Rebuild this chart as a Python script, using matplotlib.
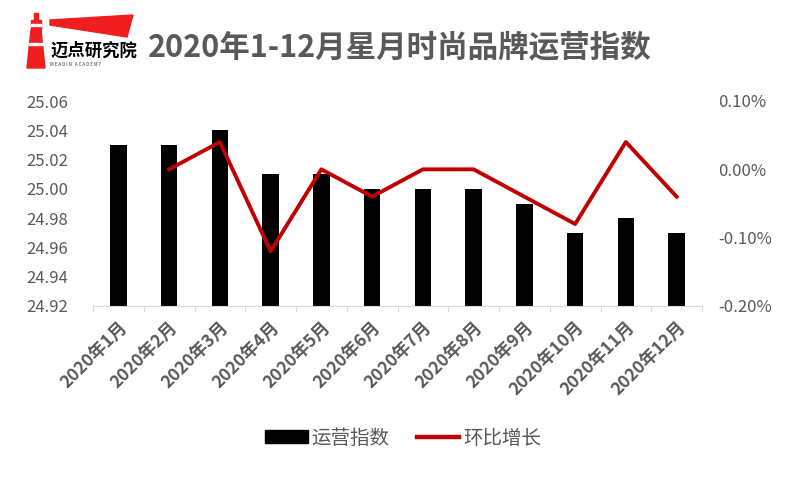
import matplotlib
matplotlib.use("Agg")
import matplotlib.pyplot as plt
from matplotlib.patches import Polygon, Rectangle
from matplotlib.lines import Line2D
from matplotlib.ticker import FuncFormatter

plt.rcParams['font.family'] = ['Noto Sans CJK SC', 'DejaVu Sans']

months = ["2020年1月", "2020年2月", "2020年3月", "2020年4月", "2020年5月", "2020年6月",
          "2020年7月", "2020年8月", "2020年9月", "2020年10月", "2020年11月", "2020年12月"]
index_values = [25.03, 25.03, 25.04, 25.01, 25.01, 25.00, 25.00, 25.00, 24.99, 24.97, 24.98, 24.97]
growth_months = months[1:]
growth_pct = [0.00, 0.04, -0.12, 0.00, -0.04, 0.00, 0.00, -0.04, -0.08, 0.04, -0.04]

W, H = 800, 487
fig = plt.figure(figsize=(8, 4.87), dpi=100)
fig.patch.set_facecolor('white')

def fx(px):
    return px / W

def fy(py):
    return 1 - py / H

ax = fig.add_axes([fx(93), fy(306), fx(702) - fx(93), fy(101) - fy(306)])
x = list(range(len(months)))
ax.bar(x, index_values, width=0.33, color='black', zorder=2, label='运营指数')
ax.set_ylim(24.92, 25.06)
ax.set_yticks([24.92 + 0.02 * i for i in range(8)])
ax.yaxis.set_major_formatter(FuncFormatter(lambda v, p: f"{v:.2f}"))
ax.set_xlim(-0.5, len(months) - 0.5)
ax.set_xticks(x)
ax.set_xticklabels(months, rotation=45, ha='right', rotation_mode='anchor',
                   fontsize=12.5, fontweight='bold', color='#595959')
ax.tick_params(axis='y', length=0, labelsize=12, labelcolor='#595959', pad=18)
ax.tick_params(axis='x', length=0, pad=9)
for s in ['top', 'right', 'left']:
    ax.spines[s].set_visible(False)
ax.spines['bottom'].set_color('#D9D9D9')
# category separator ticks
for i in range(len(months) + 1):
    ax.plot([i - 0.5, i - 0.5], [0, -0.025], transform=ax.get_xaxis_transform(),
            color='#D9D9D9', lw=0.8, clip_on=False)

ax2 = ax.twinx()
gx = [months.index(m) for m in growth_months]
ax2.plot(gx, growth_pct, color='#C00000', lw=2.8, zorder=3, label='环比增长')
ax2.set_ylim(-0.20, 0.10)
ax2.set_yticks([-0.20, -0.10, 0.00, 0.10])
ax2.yaxis.set_major_formatter(FuncFormatter(lambda v, p: f"{v:.2f}%"))
ax2.tick_params(axis='y', length=0, labelsize=12, labelcolor='#595959', pad=11.5)
for s in ['top', 'right', 'left', 'bottom']:
    ax2.spines[s].set_visible(False)

handles = [Rectangle((0, 0), 1, 1, color='black'),
           Line2D([0], [0], color='#C00000', lw=3.2)]
fig.legend(handles, ['运营指数', '环比增长'], loc='center', bbox_to_anchor=(fx(403), fy(438)),
           ncol=2, frameon=False, fontsize=14, labelcolor='#595959',
           handlelength=2.2, handleheight=0.6, handletextpad=0.2, columnspacing=1.4)

# Title
fig.text(fx(148), fy(47), "2020年1-12月星月时尚品牌运营指数", fontsize=22, fontweight='bold',
         color='#595959', va='center', ha='left')

# Logo
fig.patches.append(Polygon([[fx(50), fy(20)], [fx(133), fy(15)], [fx(127), fy(37)], [fx(50), fy(25)]],
                           closed=True, transform=fig.transFigure, color='#F01E1E'))
fig.patches.append(Polygon([[fx(27), fy(68)], [fx(31), fy(30)], [fx(41), fy(30)], [fx(45), fy(68)]],
                           closed=True, transform=fig.transFigure, color='#F01E1E'))
fig.patches.append(Rectangle((fx(31), fy(30)), fx(10), fy(20) - fy(30), transform=fig.transFigure, color='#F01E1E'))
fig.patches.append(Rectangle((fx(34), fy(20)), fx(4), fy(13) - fy(20), transform=fig.transFigure, color='#F01E1E'))
fig.patches.append(Rectangle((fx(31), fy(26)), fx(10), fy(24) - fy(26), transform=fig.transFigure, color='white'))
fig.patches.append(Rectangle((fx(29), fy(45)), fx(14), fy(43) - fy(45), transform=fig.transFigure, color='white'))
fig.text(fx(50), fy(51), "迈点研究院", fontsize=12.5, fontweight='bold', color='black', va='center', ha='left')
fig.text(fx(50), fy(65), "M E A D I N   A C A D E M Y", fontsize=3.2, color='#333333', va='center', ha='left')

fig.savefig("out.png", dpi=100)
